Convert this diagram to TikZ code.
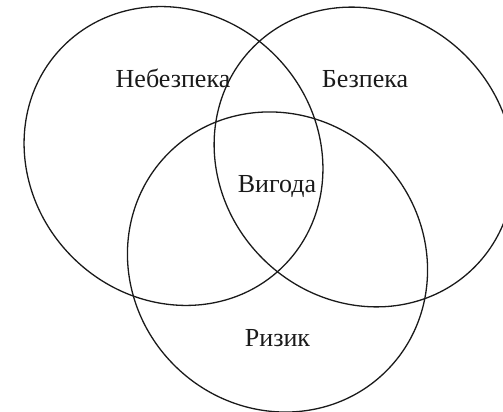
\documentclass[tikz,border=0pt]{standalone}
\usepackage{fontspec}
\setmainfont{Liberation Serif}
\usetikzlibrary{positioning}
\definecolor{VNink}{HTML}{1A1A1A}

\begin{document}
\begin{tikzpicture}[
  x=1pt,y=1pt,
  line cap=round,line join=round,
  set/.style={draw=VNink,line width=1.3pt},
  setlabel/.style={font=\rmfamily\fontsize{26}{30}\selectfont,text=VNink,
    anchor=base,inner sep=0pt}
]
\useasboundingbox (0,0) rectangle (503,412);

% Three overlapping sets, each slightly tilted.
\draw[set,rotate around={-45:(173.5,256)}] (173.5,256) ellipse (155.6 and 143);
\draw[set,rotate around={-45:(364,255)}] (364,255) ellipse (156 and 143.5);
\draw[set,rotate around={-45:(277.5,150)}] (277.5,150) ellipse (154 and 146);

\node[setlabel] (danger) at (173,324) {Небезпека};
\node[setlabel] (safety) at (365,324) {Безпека};
\node[setlabel] (benefit) at (277,219) {Вигода};
\node[setlabel] (risk) at (277.5,65) {Ризик};

\end{tikzpicture}
\end{document}
